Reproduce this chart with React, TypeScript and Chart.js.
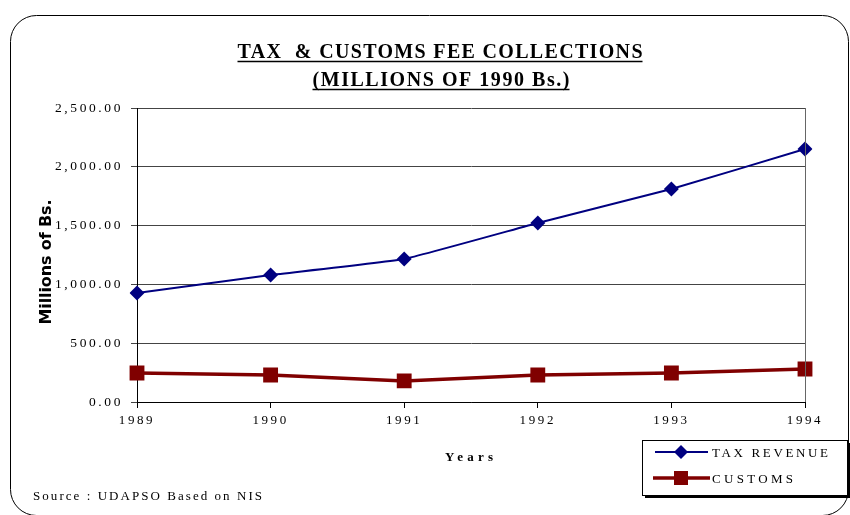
import React, { useEffect, useRef } from "react";
import { Chart, registerables } from "chart.js";

Chart.register(...registerables);

const years = ["1989", "1990", "1991", "1992", "1993", "1994"];
const taxRevenue = [927, 1080, 1216, 1522, 1811, 2151];
const customs = [247, 230, 179, 230, 247, 281];
const titleLines = ["TAX  & CUSTOMS FEE COLLECTIONS", "(MILLIONS OF 1990 Bs.)"];
const yAxisTitle = "Millions of Bs.";
const xAxisTitle = "Years";
const sourceNote = "Source : UDAPSO Based on NIS";
const seriesNames = ["TAX REVENUE", "CUSTOMS"];

const NAVY = "#000080";
const MAROON = "#800000";
const SERIF = "'Liberation Serif', 'Times New Roman', serif";

function fitText(ctx: CanvasRenderingContext2D, text: string, x: number, y: number, width: number, align: "left" | "center") {
  ctx.letterSpacing = "0px";
  const w = ctx.measureText(text).width;
  const n = Math.max(1, text.length - 1);
  const sp = (width - w) / n;
  ctx.letterSpacing = sp + "px";
  ctx.textAlign = "left";
  const startX = align === "center" ? x - width / 2 : x;
  ctx.fillText(text, startX, y);
  return startX;
}

const decorPlugin = {
  id: "decor",
  beforeDraw(chart: any) {
    const ctx = chart.ctx as CanvasRenderingContext2D;
    ctx.letterSpacing = "2.6px";
  },
  afterDatasetsDraw(chart: any) {
    const ctx = chart.ctx as CanvasRenderingContext2D;
    const ca = chart.chartArea;
    ctx.save();
    ctx.strokeStyle = "#666";
    ctx.lineWidth = 1;
    ctx.beginPath();
    ctx.moveTo(Math.round(ca.right) + 0.5, ca.top);
    ctx.lineTo(Math.round(ca.right) + 0.5, ca.bottom);
    ctx.stroke();
    ctx.restore();
  },
  afterDraw(chart: any) {
    const ctx = chart.ctx as CanvasRenderingContext2D;
    ctx.save();
    // frame
    ctx.strokeStyle = "#000";
    ctx.lineWidth = 1;
    ctx.beginPath();
    (ctx as any).roundRect(10.5, 15.5, 838, 500, 26);
    ctx.stroke();

    // title
    ctx.fillStyle = "#000";
    ctx.textBaseline = "alphabetic";
    ctx.font = "bold 20px " + SERIF;
    const t1w = 405, t2w = 257;
    const s1 = fitText(ctx, titleLines[0], 440, 58, t1w, "center");
    const s2 = fitText(ctx, titleLines[1], 441, 86, t2w, "center");
    ctx.lineWidth = 1.5;
    ctx.beginPath();
    ctx.moveTo(s1, 61.5); ctx.lineTo(s1 + t1w, 61.5);
    ctx.moveTo(s2, 89.5); ctx.lineTo(s2 + t2w, 89.5);
    ctx.stroke();

    // y title
    ctx.save();
    ctx.translate(51, 262);
    ctx.rotate(-Math.PI / 2);
    ctx.font = "bold 16px 'DejaVu Sans', sans-serif";
    fitText(ctx, yAxisTitle, 0, 0, 125, "center");
    ctx.restore();

    // x title
    ctx.font = "bold 13px " + SERIF;
    fitText(ctx, xAxisTitle, 469, 461, 48, "center");

    // source
    ctx.font = "13px " + SERIF;
    fitText(ctx, sourceNote, 33, 500, 229, "left");

    // legend box
    const lx = 642, ly = 440, lw = 205, lh = 55;
    ctx.fillStyle = "#000";
    ctx.fillRect(lx + 3, ly + 3, lw, lh);
    ctx.fillStyle = "#fff";
    ctx.fillRect(lx, ly, lw, lh);
    ctx.strokeStyle = "#000";
    ctx.lineWidth = 1;
    ctx.strokeRect(lx + 0.5, ly + 0.5, lw, lh);

    // legend entries
    ctx.strokeStyle = NAVY;
    ctx.lineWidth = 2;
    ctx.beginPath();
    ctx.moveTo(655, 452); ctx.lineTo(708, 452);
    ctx.stroke();
    ctx.fillStyle = NAVY;
    ctx.beginPath();
    ctx.moveTo(681, 445); ctx.lineTo(688, 452); ctx.lineTo(681, 459); ctx.lineTo(674, 452);
    ctx.closePath();
    ctx.fill();

    ctx.strokeStyle = MAROON;
    ctx.lineWidth = 3.5;
    ctx.beginPath();
    ctx.moveTo(653, 478); ctx.lineTo(710, 478);
    ctx.stroke();
    ctx.fillStyle = MAROON;
    ctx.fillRect(674, 471, 14, 14);

    ctx.fillStyle = "#000";
    ctx.font = "13px " + SERIF;
    fitText(ctx, seriesNames[0], 712, 457, 116, "left");
    fitText(ctx, seriesNames[1], 712, 483, 81, "left");
    ctx.restore();
    ctx.letterSpacing = "0px";
  },
};

export default function App() {
  const ref = useRef<HTMLCanvasElement | null>(null);
  useEffect(() => {
    if (!ref.current) return;
    const chart = new Chart(ref.current, {
      type: "line",
      data: {
        labels: years,
        datasets: [
          {
            label: seriesNames[0],
            data: taxRevenue,
            borderColor: NAVY,
            backgroundColor: NAVY,
            borderWidth: 2,
            tension: 0.1,
            pointStyle: "rectRot",
            pointRadius: 7.5,
            pointBorderWidth: 0,
          },
          {
            label: seriesNames[1],
            data: customs,
            borderColor: MAROON,
            backgroundColor: MAROON,
            borderWidth: 3.5,
            tension: 0,
            pointStyle: "rect",
            pointRadius: 10.5,
            pointBorderWidth: 0,
          },
        ],
      },
      options: {
        responsive: false,
        animation: false,
        layout: { padding: { left: 0, top: 108, right: 45, bottom: 85 } },
        plugins: { legend: { display: false }, title: { display: false }, tooltip: { enabled: false } },
        scales: {
          x: {
            type: "category",
            offset: false,
            grid: { drawOnChartArea: false, drawTicks: true, tickLength: 6, color: "#000" },
            border: { color: "#000", width: 1 },
            ticks: { color: "#000", font: { family: SERIF, size: 13 }, padding: 5, maxRotation: 0, autoSkip: false },
            afterFit: (s: any) => { s.height = 28; },
          },
          y: {
            min: 0,
            max: 2500,
            grid: { color: "#444", lineWidth: 1, tickLength: 6, drawTicks: true },
            border: { color: "#000", width: 1 },
            ticks: {
              stepSize: 500,
              color: "#000",
              font: { family: SERIF, size: 13.5 },
              padding: 8,
              callback: (v: any) => Number(v).toLocaleString("en-US", { minimumFractionDigits: 2, maximumFractionDigits: 2 }),
            },
            afterFit: (s: any) => { s.width = 137; },
          },
        },
      },
      plugins: [decorPlugin],
    });
    return () => chart.destroy();
  }, []);
  return (
    <div style={{ position: "absolute", left: 0, top: 0, width: 850, height: 515, background: "#fff" }}>
      <canvas ref={ref} width={850} height={515} />
    </div>
  );
}
